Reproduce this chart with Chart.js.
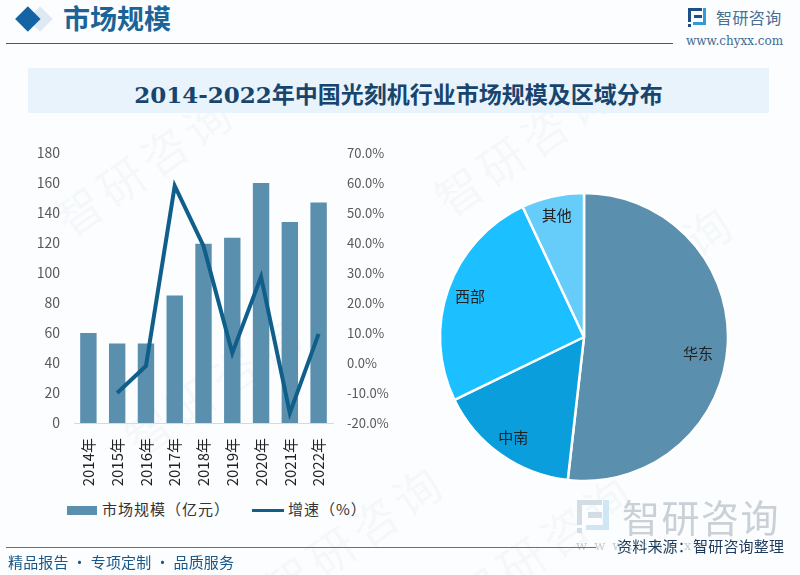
<!DOCTYPE html>
<html lang="zh">
<head>
<meta charset="utf-8">
<script src="https://cdn.jsdelivr.net/npm/chart.js@4"></script>
<style>
html,body{margin:0;padding:0}
body{width:800px;height:575px;position:relative;overflow:hidden;background:#fbfdfe;font-family:"Noto Sans CJK SC","Noto Sans",sans-serif}
.abs{position:absolute;white-space:nowrap}
#heading{left:63px;top:-2px;font-size:27px;line-height:40px;font-weight:700;color:#1c6497}
#diamond{left:18.6px;top:9.6px;width:17.7px;height:17.7px;background:#1464a5;transform:rotate(45deg)}
#diamond2{left:31px;top:9.5px;width:18px;height:18px;background:#dfe9f2;transform:rotate(45deg)}
#rule1{left:6px;top:43px;width:667px;height:1px;background:#2f6480}
#band{left:28px;top:68px;width:741px;height:45px;background:#e8f3fb}
#title{left:28px;top:72px;width:741px;height:45px;line-height:45px;text-align:center;font-size:23px;font-weight:700;color:#17456e;font-family:"DejaVu Serif","Noto Sans CJK SC",serif}
#brand{left:716px;top:6px;font-size:16px;line-height:22px;color:#4a6f92;letter-spacing:.4px}
#url{left:686px;top:34px;font-size:12px;line-height:14px;color:#3f6a92;font-family:"DejaVu Serif",serif}
#chartBox{left:0;top:131px;width:400px;height:365px}
#pieBox{left:424px;top:177px;width:320px;height:320px}
#legend{left:0;top:498px;height:22px;width:400px;font-size:15px;color:#333;line-height:22px}
#legend span{position:absolute;top:0;white-space:nowrap;letter-spacing:1px}
#legend i{position:absolute;display:block}
#rule2{left:6px;top:547px;width:590px;height:1px;background:#4f7a86}
#slogan{left:8px;top:551px;font-size:15px;line-height:22px;color:#17578a;letter-spacing:.15px}
#source{left:617px;top:535px;font-size:15px;line-height:22px;color:#1d3a5c;letter-spacing:.2px}
#bigbrand{left:622px;top:493px;font-size:38px;line-height:46px;color:#c9d0d6;letter-spacing:1.5px}
#ghostUrl{left:576px;top:538px;font-size:13px;line-height:16px;color:#c4cdd4;letter-spacing:7px;font-family:"DejaVu Serif",serif}
.wm{color:rgba(60,110,160,.05);font-size:46px;transform:rotate(-35deg);letter-spacing:6px}
</style>
</head>
<body>
<div class="abs wm" style="left:40px;top:130px">智研咨询</div>
<div class="abs wm" style="left:420px;top:110px">智研咨询</div>
<div class="abs wm" style="left:110px;top:350px">智研咨询</div>
<div class="abs wm" style="left:540px;top:240px">智研咨询</div>
<div class="abs wm" style="left:250px;top:500px">智研咨询</div>
<div class="abs wm" style="left:440px;top:510px">智研咨询</div>
<div class="abs" id="diamond2"></div>
<div class="abs" id="diamond"></div>
<div class="abs" id="heading">市场规模</div>
<div class="abs" id="rule1"></div>
<div class="abs" id="brand">智研咨询</div>
<div class="abs" id="url">www.chyxx.com</div>
<div class="abs" id="band"></div>
<div class="abs" id="title">2014-2022年中国光刻机行业市场规模及区域分布</div>

<div class="abs" id="chartBox"><canvas id="barLine"></canvas></div>
<div class="abs" id="pieBox"><canvas id="pie"></canvas></div>

<div class="abs" id="legend">
  <i style="left:67px;top:8px;width:30px;height:9px;background:#5b8fae"></i>
  <span style="left:102px">市场规模（亿元）</span>
  <i style="left:252px;top:11px;width:32px;height:3px;background:#0f5f8a"></i>
  <span style="left:288px">增速（%）</span>
</div>

<div class="abs" id="bigbrand">智研咨询</div>
<div class="abs" id="ghostUrl">www.chyxx</div>
<div class="abs" id="rule2"></div>
<div class="abs" id="source">资料来源：智研咨询整理</div>
<div class="abs" id="slogan">精品报告 · 专项定制 · 品质服务</div>

<script>
const YEARS = ['2014年','2015年','2016年','2017年','2018年','2019年','2020年','2021年','2022年'];
const MARKET_SIZE = [60,53,53,85,119.5,123.5,160,134,147];
const GROWTH = [null,-10,-1,59,39,3.3,28.7,-16.7,9.7];
const REGIONS = ['华东','中南','西部','其他'];
const REGION_SHARE = [51.8,16,25.2,7];
const REGION_COLORS = ['#5b8fae','#0a9fdc','#1cbfff','#66ccfa'];
const LABEL_RADIUS = [0.8,0.85,0.84,0.865];
const LABEL_NUDGE_DEG = [5,0,0,0];

Chart.defaults.animation = false;
Chart.defaults.font.family = '"Noto Sans CJK SC","Noto Sans",sans-serif';

// small brand mark, drawn twice
function addLogo(x, y, s, dark, light){
  [[0,0,14,3,dark],[0,0,3,14,dark],[0,16,3,3,dark],[6,7,8,3,dark],[15,0,3,17,light],[5,14,13,3,light]].forEach(([l,t,w,h,c])=>{
    const d = document.createElement('div');
    d.className = 'abs';
    d.style.cssText = `left:${x+l*s}px;top:${y+t*s}px;width:${w*s}px;height:${h*s}px;background:${c}`;
    document.body.appendChild(d);
  });
}
addLogo(688, 8, 1, '#1c4f86', '#2f9bd8');
addLogo(577, 500, 1.75, '#d3dde6', '#cfe6f5');

// labels sit inside the slices, no datalabels plugin available
const SliceLabels = {
  id:'sliceLabels',
  afterDatasetsDraw(chart){
    const ctx = chart.ctx;
    ctx.save();
    ctx.font = '15px "Noto Sans CJK SC"';
    ctx.fillStyle = '#222';
    ctx.textAlign = 'center';
    ctx.textBaseline = 'middle';
    chart.getDatasetMeta(0).data.forEach((arc,i)=>{
      const mid = (arc.startAngle+arc.endAngle)/2 + LABEL_NUDGE_DEG[i]*Math.PI/180;
      const r = arc.outerRadius*LABEL_RADIUS[i];
      ctx.fillText(REGIONS[i], arc.x+Math.cos(mid)*r, arc.y+Math.sin(mid)*r);
    });
    ctx.restore();
  }
};

new Chart(document.getElementById('barLine'), {
  data:{labels:YEARS, datasets:[
    {type:'line', label:'增速（%）', data:GROWTH, yAxisID:'y2', borderColor:'#0f5f8a', borderWidth:4, pointRadius:0, tension:0, spanGaps:false, order:0},
    {type:'bar', label:'市场规模（亿元）', data:MARKET_SIZE, yAxisID:'y', backgroundColor:'#5b8fae', categoryPercentage:1, barPercentage:0.57, order:1}
  ]},
  options:{
    responsive:true, maintainAspectRatio:false,
    layout:{padding:{left:0,right:0,top:22,bottom:0}},
    plugins:{legend:{display:false},tooltip:{enabled:false}},
    scales:{
      x:{
        grid:{display:false}, border:{color:'#d9d9d9'},
        ticks:{color:'#222',font:{size:15},maxRotation:90,minRotation:90,padding:7,autoSkip:false},
        afterFit(s){ s.height = 73; }
      },
      y:{
        position:'left', min:0, max:180,
        grid:{display:false}, border:{display:false},
        ticks:{stepSize:20,color:'#595959',font:{size:14},padding:6},
        afterFit(s){ s.width = 74; }
      },
      y2:{
        position:'right', min:-20, max:70,
        grid:{display:false}, border:{display:false},
        ticks:{stepSize:10,color:'#595959',font:{size:13},padding:6,callback:v=>v.toFixed(1)+'%'},
        afterFit(s){ s.width = 67; }
      }
    }
  }
});

new Chart(document.getElementById('pie'), {
  type:'pie',
  data:{labels:REGIONS, datasets:[{data:REGION_SHARE, backgroundColor:REGION_COLORS, borderColor:'#fff', borderWidth:2.5, borderAlign:'center'}]},
  options:{
    responsive:true, maintainAspectRatio:false, radius:144,
    plugins:{legend:{display:false},tooltip:{enabled:false}}
  },
  plugins:[SliceLabels]
});
</script>
</body>
</html>
